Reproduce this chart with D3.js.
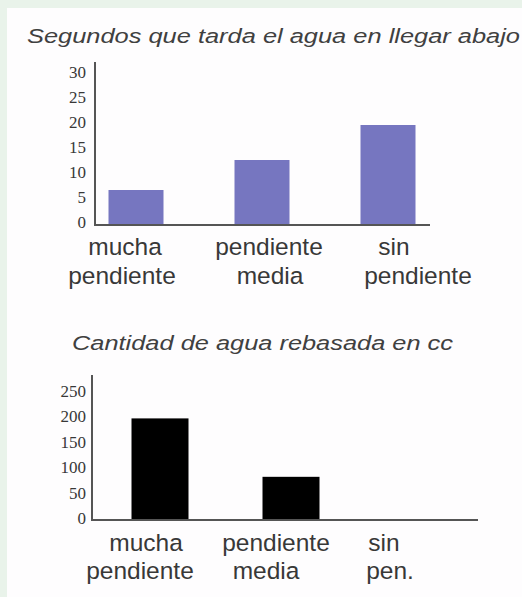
<!DOCTYPE html>
<html>
<head>
<meta charset="utf-8">
<script src="https://cdn.jsdelivr.net/npm/d3@7"></script>
<style>
  html, body { margin: 0; padding: 0; background: #e9f3ea; }
  svg { display: block; }
</style>
</head>
<body>
<script>
// ---- data ----
const categories1 = ["mucha pendiente", "pendiente media", "sin pendiente"];
const labelLines1 = [["mucha", "pendiente"], ["pendiente", "media"], ["sin", "pendiente"]];
const seconds = [7, 13, 20];
const ticks1 = [0, 5, 10, 15, 20, 25, 30];
const title1 = "Segundos que tarda el agua en llegar abajo";

const categories2 = ["mucha pendiente", "pendiente media", "sin pen."];
const labelLines2 = [["mucha", "pendiente"], ["pendiente", "media"], ["sin", "pen."]];
const overflowCc = [200, 85, 0];
const ticks2 = [0, 50, 100, 150, 200, 250];
const title2 = "Cantidad de agua rebasada en cc";

// ---- layout (not data) ----
const W = 522, H = 597;
const svg = d3.select("body").append("svg").attr("width", W).attr("height", H);
svg.append("rect").attr("x", 7).attr("y", 8).attr("width", W - 7).attr("height", H - 8).attr("fill", "#fefdfe");

const textColor = "#383838";
const axisColor = "#555";

function drawChart(cfg) {
  const g = svg.append("g");
  const y = d3.scaleLinear().domain(cfg.domain).range(cfg.yRange);
  const x = d3.scalePoint().domain(cfg.categories).range(cfg.xRange);

  // title
  g.append("text")
    .attr("x", cfg.titleX).attr("y", cfg.titleY)
    .attr("textLength", cfg.titleLen).attr("lengthAdjust", "spacingAndGlyphs")
    .attr("font-family", "Liberation Sans, Arial, sans-serif")
    .attr("font-style", "italic").attr("font-size", 20)
    .attr("fill", "#404040")
    .text(cfg.title);

  // bars
  g.selectAll("rect.bar").data(cfg.values.filter(d => d > 0)).join("rect")
    .attr("class", "bar")
    .attr("x", (d, i) => x(cfg.categories[i]) - cfg.barW / 2)
    .attr("width", cfg.barW)
    .attr("y", d => y(d))
    .attr("height", d => y(0) - y(d))
    .attr("fill", cfg.color);

  // y axis ticks
  const ax = d3.axisLeft(y).tickValues(cfg.ticks).tickSize(0).tickPadding(0);
  const ag = g.append("g").attr("transform", `translate(${cfg.tickRight},${cfg.tickShift})`).call(ax);
  ag.select(".domain").remove();
  ag.selectAll("text")
    .attr("font-family", "Liberation Serif, Times New Roman, serif")
    .attr("font-size", 17)
    .attr("fill", textColor)
    .attr("dy", "0.32em");

  // axis lines
  const base = y(0);
  g.append("line").attr("x1", cfg.axisX).attr("x2", cfg.axisX)
    .attr("y1", cfg.axisTop).attr("y2", base)
    .attr("stroke", axisColor).attr("stroke-width", 2);
  g.append("line").attr("x1", cfg.axisX - 1).attr("x2", cfg.axisRight)
    .attr("y1", base).attr("y2", base)
    .attr("stroke", axisColor).attr("stroke-width", 2.2);

  // category labels
  cfg.categories.forEach((c, i) => {
    cfg.lines[i].forEach((ln, j) => {
      g.append("text")
        .attr("x", x(c) + cfg.labelDx[i][j])
        .attr("y", cfg.labelY[j])
        .attr("text-anchor", "middle")
        .attr("font-family", "Liberation Sans, Arial, sans-serif")
        .attr("font-size", 24.5)
        .attr("fill", textColor)
        .text(ln);
    });
  });
}

drawChart({
  title: title1, titleX: 27, titleY: 43, titleLen: 493,
  categories: categories1, lines: labelLines1, values: seconds, ticks: ticks1,
  domain: [0, 30], yRange: [225, 75], xRange: [136, 388], barW: 55,
  axisX: 95, axisTop: 62, axisRight: 430,
  tickRight: 86, tickShift: -3,
  color: "#7676c0",
  labelDx: [[-11, -14], [7, 8], [6, 30]],
  labelY: [255, 284]
});

drawChart({
  title: title2, titleX: 72, titleY: 350, titleLen: 381,
  categories: categories2, lines: labelLines2, values: overflowCc, ticks: ticks2,
  domain: [0, 250], yRange: [520, 393], xRange: [160, 422], barW: 57,
  axisX: 92, axisTop: 375, axisRight: 478,
  tickRight: 86, tickShift: -2,
  color: "#000000",
  labelDx: [[-14, -20], [-15, -25], [-38, -32]],
  labelY: [551, 579]
});
</script>
</body>
</html>
